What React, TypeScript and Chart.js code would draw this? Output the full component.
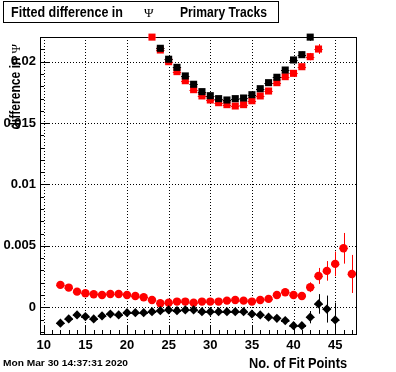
import { useEffect, useRef } from 'react';
import { Chart, registerables } from 'chart.js';

Chart.register(...registerables);

const SANS = '"Liberation Sans", Arial, Helvetica, sans-serif';
const SERIF = '"Liberation Serif", "DejaVu Serif", serif';

// ---- Data ----
const titleText = 'Fitted difference in';
const titleGreek = 'Ψ';
const titleTail = 'Primary Tracks';
const xTitle = 'No. of Fit Points';
const yTitle = 'difference in';
const dateText = 'Mon Mar 30 14:37:31 2020';

const xMajorTicks = [10, 15, 20, 25, 30, 35, 40, 45];
const yMajorTicks = [0, 0.005, 0.01, 0.015, 0.02];

// upper black squares
const upperBlackX = [24, 25, 26, 27, 28, 29, 30, 31, 32, 33, 34, 35, 36, 37, 38, 39, 40, 41, 42];
const upperBlackY = [0.02109, 0.0202, 0.01954, 0.01884, 0.01816, 0.01756, 0.01723, 0.01699, 0.01688, 0.01699, 0.01704, 0.01731, 0.0178, 0.01829, 0.01873, 0.01932, 0.02014, 0.02057, 0.022];
const upperBlackErr = [0.00015, 0.0001, 0.0001, 0.00008, 0.00006, 0.00005, 0.00005, 0.00005, 0.00005, 0.00005, 0.00005, 0.00005, 0.00006, 0.00008, 0.0001, 0.00012, 0.00015, 0.00025, 0.0003];

// upper red squares
const upperRedX = [23, 24, 25, 26, 27, 28, 29, 30, 31, 32, 33, 34, 35, 36, 37, 38, 39, 40, 41, 42, 43];
const upperRedY = [0.022, 0.02095, 0.02, 0.01919, 0.01845, 0.01772, 0.01721, 0.01688, 0.01666, 0.0165, 0.01639, 0.0165, 0.01682, 0.01721, 0.01761, 0.01829, 0.01878, 0.01905, 0.01959, 0.02041, 0.02103];
const upperRedErr = [0.0002, 0.00015, 0.0001, 0.0001, 0.00008, 0.00006, 0.00005, 0.00005, 0.00005, 0.00005, 0.00005, 0.00005, 0.00005, 0.00006, 0.00008, 0.0001, 0.00012, 0.00015, 0.0002, 0.0003, 0.0004];

// lower red circles
const lowerRedX = [12, 13, 14, 15, 16, 17, 18, 19, 20, 21, 22, 23, 24, 25, 26, 27, 28, 29, 30, 31, 32, 33, 34, 35, 36, 37, 38, 39, 40, 41, 42, 43, 44, 45, 46, 47];
const lowerRedY = [0.00182, 0.0016, 0.00127, 0.00114, 0.00106, 0.001, 0.00108, 0.00108, 0.001, 0.00092, 0.00081, 0.00059, 0.00033, 0.00037, 0.00046, 0.00046, 0.00037, 0.00046, 0.00046, 0.00046, 0.00054, 0.00059, 0.00054, 0.00046, 0.00059, 0.00068, 0.001, 0.00122, 0.001, 0.00092, 0.00163, 0.00255, 0.00296, 0.00353, 0.0048, 0.00271];
const lowerRedErr = [0.0001, 0.0001, 0.0001, 0.0001, 0.0001, 0.0001, 0.0001, 0.0001, 0.0001, 0.0001, 0.0001, 0.0001, 0.0001, 0.0001, 0.0001, 0.0001, 0.0001, 0.0001, 0.0001, 0.0001, 0.0001, 0.0001, 0.0001, 0.0001, 0.0001, 0.00012, 0.00014, 0.00016, 0.0002, 0.00025, 0.0004, 0.00065, 0.0008, 0.001, 0.00125, 0.00155];

// lower black diamonds
const lowerBlackX = [12, 13, 14, 15, 16, 17, 18, 19, 20, 21, 22, 23, 24, 25, 26, 27, 28, 29, 30, 31, 32, 33, 34, 35, 36, 37, 38, 39, 40, 41, 42, 43, 44, 45];
const lowerBlackY = [-0.0013, -0.00095, -0.00063, -0.00076, -0.00095, -0.00071, -0.00055, -0.00063, -0.00044, -0.00044, -0.00044, -0.00036, -0.00028, -0.00022, -0.00028, -0.00022, -0.00022, -0.00036, -0.00036, -0.00036, -0.00036, -0.00036, -0.00036, -0.00055, -0.00063, -0.00081, -0.0009, -0.00109, -0.0015, -0.0015, -0.00081, 0.00027, -0.00015, -0.00103];
const lowerBlackErr = [0.0001, 0.0001, 0.0001, 0.0001, 0.0001, 0.0001, 0.0001, 0.0001, 0.0001, 0.0001, 0.0001, 0.0001, 0.0001, 0.0001, 0.0001, 0.0001, 0.0001, 0.0001, 0.0001, 0.0001, 0.0001, 0.0001, 0.0001, 0.0001, 0.0001, 0.00012, 0.00014, 0.00016, 0.0002, 0.00025, 0.0005, 0.0008, 0.0011, 0.0014];

const X_MIN = 9.55;
const X_MAX = 47.5;
const Y_MIN = -0.00218;
const Y_MAX = 0.02201;

function pts(xs: number[], ys: number[]) {
  return xs.map((x, i) => ({ x, y: ys[i] }));
}

function drawText(ctx: CanvasRenderingContext2D, text: string, x: number, y: number, font: string, align: CanvasTextAlign, targetW?: number) {
  ctx.save();
  ctx.font = font;
  const w = ctx.measureText(text).width;
  const s = targetW ? targetW / w : 1;
  ctx.translate(x, y);
  ctx.scale(s, 1);
  ctx.textAlign = align;
  ctx.textBaseline = 'alphabetic';
  ctx.fillStyle = '#000';
  ctx.fillText(text, 0, 0);
  ctx.restore();
}

const errs: number[][] = [upperBlackErr, upperRedErr, lowerBlackErr, lowerRedErr];

const rootPlugin = {
  id: 'rootStyle',
  beforeDatasetsDraw(chart: any) {
    const ctx: CanvasRenderingContext2D = chart.ctx;
    const { left, right, top, bottom } = chart.chartArea;
    const xs = chart.scales.x;
    const ys = chart.scales.y;
    ctx.save();
    // dotted grid
    ctx.strokeStyle = '#000';
    ctx.lineWidth = 1;
    ctx.setLineDash([1, 2]);
    xMajorTicks.forEach((v) => {
      const px = Math.round(xs.getPixelForValue(v)) + 0.5;
      ctx.beginPath();
      ctx.moveTo(px, top);
      ctx.lineTo(px, bottom);
      ctx.stroke();
    });
    yMajorTicks.forEach((v) => {
      const py = Math.round(ys.getPixelForValue(v)) + 0.5;
      ctx.beginPath();
      ctx.moveTo(left, py);
      ctx.lineTo(right, py);
      ctx.stroke();
    });
    ctx.setLineDash([]);
    // frame
    ctx.strokeRect(left + 0.5, top + 0.5, right - left, bottom - top);
    // ticks
    for (let v = 10; v <= 47; v++) {
      const px = Math.round(xs.getPixelForValue(v)) + 0.5;
      const len = v % 5 === 0 ? 8 : 4;
      ctx.beginPath();
      ctx.moveTo(px, bottom);
      ctx.lineTo(px, bottom - len);
      ctx.stroke();
    }
    for (let k = -2; k <= 22; k++) {
      const py = Math.round(ys.getPixelForValue(k / 1000)) + 0.5;
      const len = k % 5 === 0 ? 9 : 4;
      ctx.beginPath();
      ctx.moveTo(left, py);
      ctx.lineTo(left + len, py);
      ctx.stroke();
    }
    // error bars
    ctx.beginPath();
    ctx.rect(left, top, right - left, bottom - top);
    ctx.clip();
    chart.data.datasets.forEach((ds: any, i: number) => {
      ctx.strokeStyle = ds.backgroundColor;
      ds.data.forEach((p: any, j: number) => {
        const cx = xs.getPixelForValue(p.x);
        const cy = Math.round(ys.getPixelForValue(p.y)) + 0.5;
        const x0 = xs.getPixelForValue(p.x - 0.5);
        const x1 = xs.getPixelForValue(p.x + 0.5);
        const e = errs[i][j];
        const y0 = ys.getPixelForValue(p.y - e);
        const y1 = ys.getPixelForValue(p.y + e);
        const rx = Math.round(cx) + 0.5;
        ctx.beginPath();
        ctx.moveTo(x0, cy);
        ctx.lineTo(x1, cy);
        ctx.moveTo(rx, y0);
        ctx.lineTo(rx, y1);
        ctx.stroke();
      });
    });
    ctx.restore();
  },
  afterDraw(chart: any) {
    const ctx: CanvasRenderingContext2D = chart.ctx;
    ctx.save();
    // title box
    ctx.fillStyle = '#fff';
    ctx.fillRect(3, 1, 276, 22);
    ctx.strokeStyle = '#000';
    ctx.lineWidth = 1;
    ctx.strokeRect(3.5, 1.5, 275, 21);
    drawText(ctx, titleText, 11, 17, `bold 14px ${SANS}`, 'left', 112);
    drawText(ctx, titleGreek, 144, 17, `13px ${SERIF}`, 'left');
    drawText(ctx, titleTail, 180, 17, `bold 14px ${SANS}`, 'left', 87);
    // x title
    drawText(ctx, xTitle, 347, 368, `bold 14px ${SANS}`, 'right', 98);
    // date
    drawText(ctx, dateText, 3, 366, `bold 9px ${SANS}`, 'left', 125);
    // y title (rotated)
    ctx.save();
    ctx.translate(20, 44);
    ctx.rotate(-Math.PI / 2);
    ctx.fillStyle = '#000';
    ctx.textBaseline = 'alphabetic';
    ctx.font = `13px ${SERIF}`;
    ctx.textAlign = 'right';
    ctx.fillText(titleGreek, 0, 0);
    const gw = ctx.measureText(titleGreek).width;
    ctx.restore();
    ctx.save();
    ctx.translate(20, 44 + gw + 4);
    ctx.rotate(-Math.PI / 2);
    drawText(ctx, yTitle, 0, 0, `bold 14px ${SANS}`, 'right', 72);
    ctx.restore();
    ctx.restore();
  },
};

export default function App() {
  const ref = useRef<HTMLCanvasElement | null>(null);
  useEffect(() => {
    if (!ref.current) return;
    const mk = (label: string, xs: number[], ys: number[], color: string, style: any, r: number) => ({
      label,
      data: pts(xs, ys),
      backgroundColor: color,
      borderColor: color,
      pointBackgroundColor: color,
      pointBorderColor: color,
      pointBorderWidth: 0,
      pointStyle: style,
      pointRadius: r,
      showLine: false,
      clip: false as any,
    });
    const chart = new Chart(ref.current, {
      type: 'scatter',
      data: {
        datasets: [
          mk('upper black', upperBlackX, upperBlackY, '#000000', 'rect', 5),
          mk('upper red', upperRedX, upperRedY, '#ff0000', 'rect', 5),
          mk('lower black', lowerBlackX, lowerBlackY, '#000000', 'rectRot', 4.6),
          mk('lower red', lowerRedX, lowerRedY, '#ff0000', 'circle', 4.2),
        ],
      },
      options: {
        animation: false,
        responsive: false,
        devicePixelRatio: 1,
        layout: { padding: { left: 0, top: 37, right: 40, bottom: 0 } },
        plugins: { legend: { display: false }, tooltip: { enabled: false }, title: { display: false } },
        events: [],
        scales: {
          x: {
            type: 'linear',
            min: X_MIN,
            max: X_MAX,
            grid: { display: false, drawTicks: false, tickLength: 0 },
            border: { display: false },
            afterBuildTicks: (s: any) => {
              const t = [];
              for (let v = 10; v <= 47; v++) t.push({ value: v });
              s.ticks = t;
            },
            afterFit: (s: any) => { s.height = 38; },
            ticks: {
              autoSkip: false,
              maxRotation: 0,
              padding: 4,
              color: '#000',
              font: { family: SANS, size: 13, weight: 'bold' },
              callback: (v: any) => (Number(v) % 5 === 0 ? String(v) : ''),
            },
          },
          y: {
            type: 'linear',
            min: Y_MIN,
            max: Y_MAX,
            grid: { display: false, drawTicks: false, tickLength: 0 },
            border: { display: false },
            afterBuildTicks: (s: any) => {
              const t = [];
              for (let k = -2; k <= 22; k++) t.push({ value: k / 1000 });
              s.ticks = t;
            },
            afterFit: (s: any) => { s.width = 40; },
            ticks: {
              autoSkip: false,
              padding: 4,
              color: '#000',
              font: { family: SANS, size: 13, weight: 'bold' },
              callback: (v: any) => {
                const k = Math.round(Number(v) * 1000);
                if (k % 5 !== 0) return '';
                return k === 0 ? '0' : String(k / 1000);
              },
            },
          },
        },
      },
      plugins: [rootPlugin],
    });
    return () => chart.destroy();
  }, []);
  return (
    <div style={{ position: 'fixed', left: 0, top: 0, width: 396, height: 372, background: '#fff' }}>
      <canvas ref={ref} width={396} height={372} style={{ width: 396, height: 372, display: 'block' }} />
    </div>
  );
}
